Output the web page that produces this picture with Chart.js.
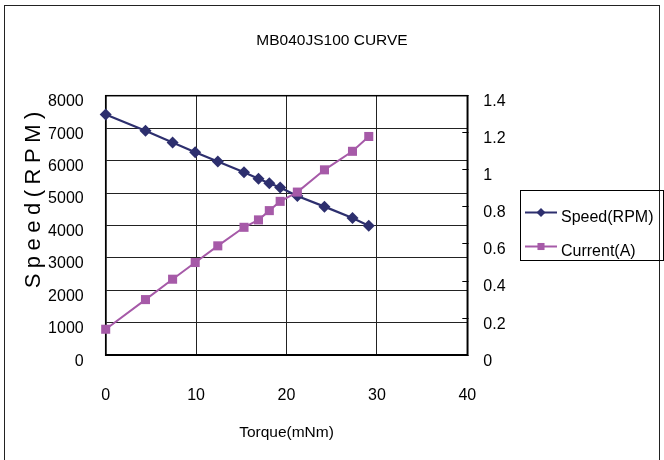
<!DOCTYPE html>
<html>
<head>
<meta charset="utf-8">
<title>MB040JS100 CURVE</title>
<script src="https://cdn.jsdelivr.net/npm/chart.js@4.4.1/dist/chart.umd.min.js"></script>
<style>
  html, body { margin: 0; padding: 0; background: #fff; }
  canvas { display: block; }
</style>
</head>
<body>
<canvas id="curve" width="664" height="460"></canvas>
<script>
// motor curve: torque (mNm) vs speed (RPM) and current (A)
const torque = [0, 4.4, 7.4, 9.9, 12.4, 15.3, 16.9, 18.1, 19.3, 21.2, 24.2, 27.3, 29.1];
const speed = [7420, 6920, 6560, 6260, 5970, 5640, 5440, 5300, 5170, 4910, 4580, 4230, 3990];
const current = [0.14, 0.30, 0.41, 0.50, 0.59, 0.69, 0.73, 0.78, 0.83, 0.88, 1.00, 1.10, 1.18];

const torqueTicks = [0, 10, 20, 30, 40];
const speedTicks = [0, 1000, 2000, 3000, 4000, 5000, 6000, 7000, 8000];
const currentTicks = [0, 0.2, 0.4, 0.6, 0.8, 1, 1.2, 1.4];

const SPEED_COLOR = "#2d2f6e";
const CURRENT_COLOR = "#a65aa8";
const FONT = '"Liberation Sans", Arial, sans-serif';

Chart.defaults.font.family = FONT;
Chart.defaults.color = "#000";

const toTicks = (values) => (scale) => {
  scale.ticks = values.map((v) => ({ value: v }));
};

// frame, outer border, rotated y title and boxed legend
const decorations = {
  id: "decorations",
  beforeDatasetsDraw(chart) {
    const { ctx, chartArea: a } = chart;
    ctx.save();
    ctx.strokeStyle = "#000";
    ctx.lineWidth = 1.5;
    ctx.strokeRect(a.left, a.top, a.right - a.left, a.bottom - a.top);
    ctx.restore();
  },
  afterDraw(chart) {
    const { ctx } = chart;
    ctx.save();

    ctx.strokeStyle = "#222";
    ctx.lineWidth = 1;
    ctx.strokeRect(4.5, 5.5, 655, 500);

    ctx.save();
    ctx.translate(33.5, 200);
    ctx.rotate(-Math.PI / 2);
    ctx.font = "22px " + FONT;
    ctx.letterSpacing = "5.5px";
    ctx.fillStyle = "#000";
    ctx.textAlign = "center";
    ctx.textBaseline = "middle";
    ctx.fillText("Speed(RPM)", 2.75, 0);
    ctx.restore();

    ctx.strokeStyle = "#000";
    ctx.strokeRect(520.5, 190.5, 143, 70);

    const rows = [
      { ds: chart.data.datasets[0], y: 212.5, base: 222, r: 4.5 },
      { ds: chart.data.datasets[1], y: 246.5, base: 256, r: 5 },
    ];
    rows.forEach(({ ds, y, base, r }) => {
      ctx.strokeStyle = ds.borderColor;
      ctx.lineWidth = 2;
      ctx.beginPath();
      ctx.moveTo(525, y);
      ctx.lineTo(557, y);
      ctx.stroke();
      ctx.fillStyle = ds.backgroundColor;
      Chart.helpers.drawPoint(ctx, { pointStyle: ds.pointStyle, radius: r, rotation: 0, borderWidth: 0 }, 541, y);
      ctx.fillStyle = "#000";
      ctx.font = "16px " + FONT;
      ctx.textAlign = "left";
      ctx.textBaseline = "alphabetic";
      ctx.fillText(ds.label, 561, base);
    });

    ctx.restore();
  },
};

new Chart(document.getElementById("curve"), {
  type: "line",
  data: {
    datasets: [
      {
        label: "Speed(RPM)",
        data: torque.map((t, i) => ({ x: t, y: speed[i] })),
        yAxisID: "y",
        borderColor: SPEED_COLOR,
        backgroundColor: SPEED_COLOR,
        borderWidth: 2.2,
        pointStyle: "rectRot",
        pointRadius: 6,
        pointBorderWidth: 0,
        order: 1,
        clip: false,
      },
      {
        label: "Current(A)",
        data: torque.map((t, i) => ({ x: t, y: current[i] })),
        yAxisID: "y1",
        borderColor: CURRENT_COLOR,
        backgroundColor: CURRENT_COLOR,
        borderWidth: 2,
        pointStyle: "rect",
        pointRadius: 6.4,
        pointBorderWidth: 0,
        order: 0,
        clip: false,
      },
    ],
  },
  options: {
    responsive: false,
    animation: false,
    events: [],
    layout: { padding: 0 },
    plugins: {
      legend: { display: false },
      tooltip: { enabled: false },
      title: {
        display: true,
        text: "MB040JS100 CURVE",
        color: "#000",
        font: { size: 15.5, weight: "normal", lineHeight: 1.2 },
        padding: { top: 31, bottom: 46.1 },
      },
    },
    scales: {
      x: {
        type: "linear",
        min: 0,
        max: 40,
        afterBuildTicks: toTicks(torqueTicks),
        afterFit: (s) => { s.height = 104.8; },
        grid: { color: "#222", lineWidth: 1, drawTicks: false },
        border: { color: "#000", width: 1.5 },
        ticks: { font: { size: 16 }, padding: 31 },
        title: {
          display: true,
          text: "Torque(mNm)",
          font: { size: 15.5 },
          padding: { top: 0, bottom: 18 },
        },
      },
      y: {
        position: "left",
        min: 0,
        max: 8000,
        afterBuildTicks: toTicks(speedTicks),
        afterFit: (s) => { s.width = 105.7; },
        grid: { color: "#222", lineWidth: 1, drawTicks: false },
        border: { color: "#000", width: 1.5 },
        ticks: {
          font: { size: 16 },
          padding: 22,
          labelOffset: 6,
          callback: (v) => String(v),
        },
      },
      y1: {
        position: "right",
        min: 0,
        max: 1.4,
        afterBuildTicks: toTicks(currentTicks),
        afterFit: (s) => { s.width = 196.7; },
        grid: { drawOnChartArea: false, color: "#000", tickLength: -5 },
        border: { color: "#000", width: 1.5 },
        ticks: {
          font: { size: 16 },
          padding: 21,
          labelOffset: 6,
          callback: (v) => String(+v.toFixed(1)),
        },
      },
    },
  },
  plugins: [decorations],
});
</script>
</body>
</html>
